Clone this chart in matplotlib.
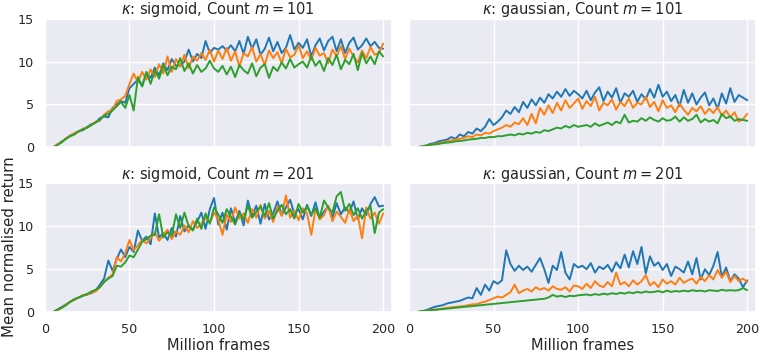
import numpy as np
import matplotlib
matplotlib.use('Agg')
import matplotlib.pyplot as plt
import seaborn as sns

# frames (millions) at which returns were logged
frames = np.arange(5, 200.1, 2.5)

# kappa: sigmoid, m=101
sig101_blue = [0.0, 0.3, 0.7, 1.0, 1.4, 1.6, 1.9, 2.0, 2.4, 2.7,
               2.9, 3.4, 3.6, 3.5, 4.6, 5.0, 5.4, 5.2, 6.9, 7.4,
               7.9, 7.2, 8.6, 8.1, 9.3, 8.4, 9.8, 9.0, 10.3, 9.5,
               9.6, 10.0, 11.4, 10.0, 10.9, 10.4, 12.4, 11.0, 11.6, 11.4,
               11.8, 11.3, 11.9, 11.2, 12.4, 10.9, 12.9, 11.5, 12.6, 10.8,
               11.5, 12.8, 11.2, 12.3, 11.0, 11.6, 13.1, 11.4, 12.2, 11.6,
               12.6, 10.6, 11.9, 12.7, 11.3, 12.4, 12.9, 11.2, 12.6, 11.0,
               12.2, 12.8, 11.4, 11.9, 12.7, 11.8, 12.3, 11.6, 11.5]
sig101_orange = [0.0, 0.4, 0.6, 1.1, 1.3, 1.7, 1.8, 2.2, 2.3, 2.6,
                 3.0, 3.1, 3.8, 4.2, 4.4, 5.4, 5.6, 6.0, 7.4, 8.6,
                 7.6, 8.8, 7.9, 9.1, 8.2, 9.7, 8.6, 10.6, 8.8, 10.3,
                 9.4, 10.8, 9.2, 10.6, 10.1, 11.0, 10.2, 11.4, 10.0, 11.3,
                 10.3, 11.6, 10.1, 11.2, 9.4, 11.0, 10.6, 11.7, 10.0, 10.9,
                 9.6, 11.3, 10.4, 11.1, 9.8, 11.5, 10.5, 10.8, 11.9, 10.4,
                 11.2, 10.2, 11.6, 10.7, 11.0, 9.8, 11.4, 10.6, 11.8, 10.3,
                 11.5, 10.6, 9.9, 11.3, 10.4, 11.7, 10.8, 11.0, 12.1]
sig101_green = [0.0, 0.3, 0.6, 1.0, 1.3, 1.5, 1.9, 2.1, 2.3, 2.6,
                2.9, 3.2, 3.7, 3.9, 4.3, 4.8, 5.3, 4.6, 6.1, 4.3,
                8.2, 7.1, 8.8, 7.4, 9.0, 8.0, 9.6, 8.4, 9.4, 9.1,
                10.4, 8.9, 9.8, 8.6, 9.6, 8.8, 9.2, 10.1, 9.2, 8.8,
                9.5, 8.5, 9.4, 8.2, 9.6, 9.0, 8.6, 9.8, 8.3, 9.3,
                9.7, 8.1, 9.4, 8.9, 9.9, 9.2, 10.3, 9.3, 9.7, 10.0,
                9.3, 10.6, 9.5, 10.1, 8.9, 10.4, 9.6, 10.8, 9.1, 10.2,
                9.7, 10.9, 9.0, 11.0, 9.8, 10.6, 9.7, 11.2, 10.6]

# kappa: gaussian, m=101
gau101_blue = [0.0, 0.1, 0.2, 0.4, 0.5, 0.7, 0.8, 0.9, 1.2, 1.0,
               1.5, 1.3, 1.8, 1.6, 2.2, 1.9, 2.4, 3.3, 2.6, 3.0,
               3.5, 4.3, 3.9, 4.7, 4.1, 5.3, 4.6, 5.6, 4.9, 5.8,
               5.2, 6.2, 5.7, 6.5, 5.9, 6.8, 6.0, 6.6, 6.2, 5.7,
               6.6, 5.5, 6.4, 7.0, 5.4, 6.5, 5.8, 6.9, 5.2, 6.3,
               5.9, 6.6, 5.3, 6.2, 5.6, 6.8, 5.8, 7.3, 5.9, 6.5,
               5.4, 6.1, 4.8, 6.7, 5.2, 6.3, 5.0, 5.8, 6.4, 4.9,
               5.7, 4.5, 6.3, 5.1, 6.9, 5.3, 6.1, 5.8, 5.5]
gau101_orange = [0.0, 0.1, 0.2, 0.3, 0.4, 0.5, 0.6, 0.7, 0.8, 0.9,
                 1.0, 1.1, 1.3, 1.2, 1.5, 1.4, 1.7, 1.6, 1.9, 2.1,
                 2.3, 2.6, 2.4, 2.9, 2.7, 3.4, 2.6, 3.9, 2.8, 4.6,
                 3.8, 4.9, 4.0, 5.2, 4.3, 5.5, 4.6, 5.1, 5.7, 4.5,
                 5.4, 4.8, 5.9, 4.3, 5.2, 4.9, 5.6, 4.4, 5.3, 4.8,
                 5.7, 4.6, 5.2, 5.0, 5.9, 4.7, 5.3, 4.2, 5.5, 4.6,
                 4.9, 4.1, 5.1, 4.4, 3.8, 4.6, 4.2, 4.8, 3.9, 4.5,
                 4.0, 4.7, 3.7, 4.3, 3.5, 4.1, 3.0, 3.3, 3.9]
gau101_green = [0.0, 0.1, 0.2, 0.3, 0.35, 0.4, 0.5, 0.55, 0.6, 0.7,
                0.75, 0.8, 0.9, 0.95, 1.0, 1.1, 1.1, 1.2, 1.2, 1.3,
                1.3, 1.4, 1.5, 1.4, 1.6, 1.5, 1.7, 1.6, 1.8, 1.7,
                2.0, 1.9, 2.1, 2.3, 2.2, 2.5, 2.3, 2.6, 2.4, 2.5,
                2.6, 2.4, 2.8, 2.5, 2.7, 2.9, 2.6, 3.0, 2.8, 3.8,
                2.9, 3.1, 3.0, 3.4, 3.1, 3.5, 3.2, 3.0, 3.4, 3.1,
                3.2, 3.6, 3.0, 3.5, 3.1, 3.3, 3.8, 2.9, 3.3, 3.0,
                3.2, 2.8, 3.9, 3.4, 3.6, 3.1, 3.3, 3.2, 3.1]

# kappa: sigmoid, m=201
sig201_blue = [0.0, 0.3, 0.6, 0.9, 1.2, 1.5, 1.7, 1.9, 2.1, 2.2,
               2.5, 3.2, 3.9, 6.0, 4.8, 6.2, 7.3, 6.4, 7.6, 7.0,
               9.5, 8.3, 8.8, 7.9, 11.5, 8.7, 9.2, 8.4, 9.8, 8.8,
               11.2, 9.4, 10.1, 9.6, 10.5, 11.6, 9.7, 12.0, 13.3, 10.2,
               11.6, 9.6, 12.1, 10.4, 11.8, 10.1, 13.0, 11.2, 12.4, 10.3,
               12.6, 10.8, 11.5, 12.9, 11.3, 12.2, 13.1, 11.4, 12.0, 10.8,
               12.5, 11.2, 12.8, 10.9, 11.7, 12.3, 11.0, 12.7, 11.4, 12.2,
               11.6, 12.9, 10.8, 12.1, 11.3, 12.6, 13.4, 12.3, 12.4]
sig201_orange = [0.0, 0.2, 0.5, 0.9, 1.2, 1.4, 1.7, 2.0, 2.0, 2.3,
                 2.4, 2.9, 3.5, 4.0, 4.4, 6.4, 5.9, 6.9, 8.4, 7.2,
                 7.8, 8.4, 8.0, 8.6, 9.3, 8.3, 9.0, 9.6, 8.5, 9.4,
                 9.0, 10.1, 9.3, 10.6, 9.8, 10.3, 11.0, 10.4, 11.6, 10.8,
                 9.0, 11.4, 10.5, 12.2, 10.9, 11.5, 10.4, 12.0, 11.0, 12.5,
                 10.9, 11.8, 10.5, 12.3, 11.2, 13.6, 11.0, 11.8, 10.7, 12.1,
                 11.5, 9.0, 12.0, 10.8, 11.3, 12.4, 10.6, 11.7, 11.1, 10.4,
                 12.0, 10.6, 11.3, 8.6, 12.2, 10.9, 11.6, 10.3, 11.5]
sig201_green = [0.0, 0.3, 0.5, 0.8, 1.2, 1.5, 1.7, 1.9, 2.1, 2.4,
                2.6, 2.9, 3.5, 3.9, 4.2, 5.4, 5.3, 5.8, 6.6, 6.4,
                7.3, 8.2, 8.5, 8.9, 9.0, 11.4, 8.7, 9.3, 8.9, 11.4,
                9.8, 11.6, 10.0, 9.5, 10.9, 9.7, 11.5, 10.3, 12.2, 11.4,
                10.4, 12.0, 11.1, 10.2, 11.6, 10.8, 12.4, 11.0, 11.7, 12.3,
                11.2, 12.7, 10.9, 11.8, 12.5, 11.4, 12.0, 10.9, 12.6, 11.6,
                12.3, 11.4, 12.1, 11.0, 13.0, 12.2, 11.6, 13.5, 14.0, 11.8,
                12.6, 11.3, 12.1, 10.9, 11.8, 12.4, 9.2, 11.6, 12.0]

# kappa: gaussian, m=201
gau201_blue = [0.0, 0.1, 0.2, 0.4, 0.6, 0.7, 0.8, 1.0, 1.1, 1.2,
               1.3, 1.5, 1.7, 1.6, 2.8, 2.0, 3.2, 2.5, 3.6, 3.3,
               3.7, 7.2, 5.6, 4.8, 5.4, 4.9, 5.3, 4.7, 5.5, 6.3,
               5.0, 3.4, 5.4, 4.9, 7.0, 4.6, 3.8, 5.6, 5.2, 5.4,
               5.0, 5.7, 4.6, 5.3, 5.0, 5.5, 4.7, 5.8, 5.1, 6.7,
               5.2, 7.1, 5.6, 7.6, 4.5, 6.5, 5.4, 5.8, 4.9, 5.6,
               4.2, 5.3, 5.0, 4.6, 5.9, 4.4, 6.3, 3.8, 5.0, 4.3,
               5.4, 7.0, 4.1, 5.2, 3.6, 4.4, 3.9, 2.9, 3.7]
gau201_orange = [0.0, 0.1, 0.15, 0.2, 0.3, 0.35, 0.4, 0.5, 0.55, 0.6,
                 0.65, 0.7, 0.8, 0.9, 0.9, 1.1, 1.2, 1.4, 1.6, 1.8,
                 1.7, 2.0, 2.3, 3.2, 2.2, 2.5, 2.7, 2.4, 2.9, 2.6,
                 2.8, 2.5, 3.0, 2.7, 2.6, 2.9, 2.4, 3.1, 3.0, 2.7,
                 3.3, 2.8, 3.6, 3.1, 2.9, 3.5, 3.0, 4.6, 3.2, 3.5,
                 3.0, 3.7, 3.2, 3.6, 4.3, 3.1, 3.5, 2.9, 3.8, 3.3,
                 3.6, 3.2, 4.0, 3.4, 3.7, 3.9, 3.3, 4.1, 3.6, 4.3,
                 3.8, 4.9, 4.0, 4.7, 3.5, 4.2, 3.6, 3.9, 3.5]
gau201_green = [0.0, 0.1, 0.15, 0.2, 0.25, 0.3, 0.35, 0.4, 0.45, 0.5,
                0.55, 0.6, 0.65, 0.7, 0.75, 0.8, 0.85, 0.9, 0.95, 1.0,
                1.05, 1.1, 1.15, 1.2, 1.25, 1.3, 1.35, 1.4, 1.45, 1.5,
                1.55, 1.7, 2.0, 1.8, 1.9, 1.75, 1.9, 1.85, 1.95, 2.0,
                2.05, 1.95, 2.1, 2.0, 2.15, 2.05, 2.2, 2.1, 2.25, 2.15,
                2.3, 2.2, 2.35, 2.25, 2.4, 2.3, 2.35, 2.45, 2.3, 2.5,
                2.35, 2.45, 2.4, 2.5, 2.4, 2.55, 2.45, 2.5, 2.4, 2.55,
                2.5, 2.45, 2.6, 2.5, 2.55, 2.5, 2.55, 2.8, 2.55]

titles = [r'$\kappa$: sigmoid, Count $m=101$', r'$\kappa$: gaussian, Count $m=101$',
          r'$\kappa$: sigmoid, Count $m=201$', r'$\kappa$: gaussian, Count $m=201$']
panels = [(sig101_blue, sig101_orange, sig101_green),
          (gau101_blue, gau101_orange, gau101_green),
          (sig201_blue, sig201_orange, sig201_green),
          (gau201_blue, gau201_orange, gau201_green)]

sns.set_theme(style='darkgrid')
plt.rcParams['font.family'] = ['DejaVu Sans']

fig, axes = plt.subplots(2, 2, figsize=(7.61, 3.53), dpi=100, sharex=True, sharey=True)
fig.subplots_adjust(left=0.059, right=0.993, bottom=0.116, top=0.947, wspace=0.05, hspace=0.28)

colors = ['tab:blue', 'tab:orange', 'tab:green']
for ax, title, series in zip(axes.flat, titles, panels):
    for ys, c in zip(series, colors):
        ax.plot(frames, ys, color=c, lw=1.4)
    ax.set_title(title, fontsize=10.5, pad=3)
    ax.tick_params(labelsize=9.2, pad=2)

axes[0, 0].set_xlim(0, 205)
axes[0, 0].set_ylim(0, 15)
axes[0, 0].set_yticks([0, 5, 10, 15])
axes[0, 0].set_xticks([0, 50, 100, 150, 200])
for ax in axes[1]:
    ax.set_xlabel('Million frames', fontsize=10.5, labelpad=1)
# y label sits beside the lower-left panel
fig.text(0.003, 0.30, 'Mean normalised return', rotation=90, ha='left', va='center', fontsize=10.8)

plt.savefig('out.png', dpi=100)
